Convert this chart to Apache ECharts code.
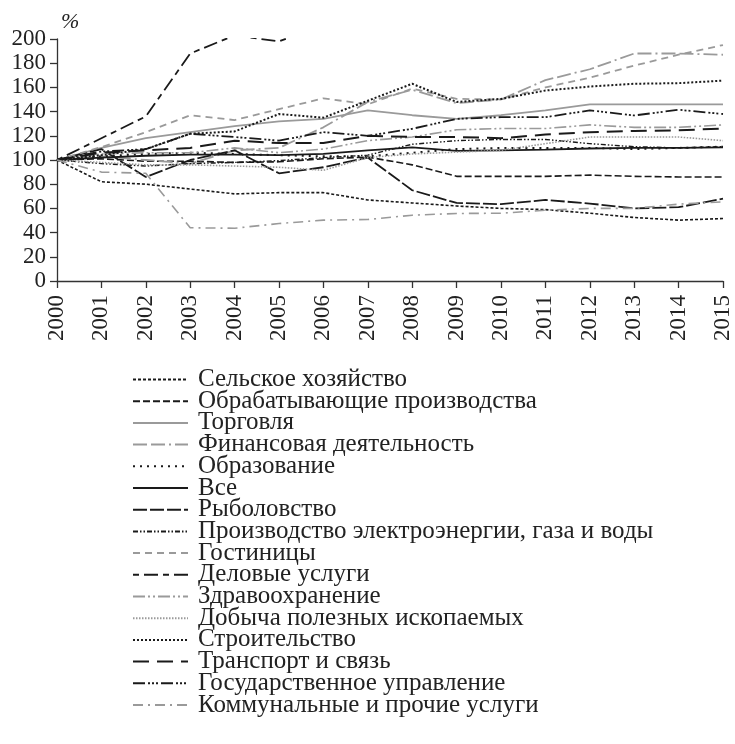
<!DOCTYPE html>
<html>
<head>
<meta charset="utf-8">
<script src="https://cdn.jsdelivr.net/npm/echarts@6/dist/echarts.min.js"></script>
<style>
  html, body { margin: 0; padding: 0; background: #fff; }
  #chart { width: 735px; height: 744px; }
</style>
</head>
<body>
<div id="chart"></div>
<script>
// годы
const years = ['2000', '2001', '2002', '2003', '2004', '2005', '2006', '2007',
  '2008', '2009', '2010', '2011', '2012', '2013', '2014', '2015']

// значения, 2000 = 100
const agriculture = [100, 82, 80, 76, 72, 73, 73, 67, 64.5, 62, 60, 59, 56, 52.5, 50.3, 51.6]
const manufacturing = [100, 101, 99, 99, 98, 98.5, 101, 102.4, 96, 86.5, 86.5, 86.5, 87.5, 86.5, 86, 86]
const trade = [100, 110, 118, 123, 128, 132, 134, 141, 137, 134, 137, 141, 146, 146, 146, 146]
const finance = [100, 103, 100, 97, 108, 110, 127, 148, 158, 147, 150, 166, 175, 188, 188, 187]
const education = [100, 103, 105, 106, 105, 104, 103, 103, 106, 109, 110, 110, 110, 109, 110, 111]
const all = [100, 102, 103.5, 104.5, 104.5, 104, 105, 108, 110.5, 107.5, 108, 108.5, 109.5, 110, 110, 110.5]
const fishing = [100, 109, 86, 100, 108, 89, 94, 102, 75, 64.5, 63.5, 67, 64, 60, 61, 68]
const utilities = [100, 97, 95, 97, 98, 99.5, 102, 104, 113, 116, 117, 117, 113.5, 111, 110, 111]
const hotels = [100, 110.7, 123, 137, 133, 142, 151, 146, 159, 150.5, 150, 160, 168, 178, 187, 195]
const business = [100, 118, 136, 188, 203, 198, 212, 230, 250, 255, 260, 270, 280, 285, 290, 295]
const health = [100, 105, 106, 106, 110, 106, 109, 116, 119, 125, 126, 126, 129, 127, 127, 129]
const mining = [100, 98, 96, 96, 95, 94, 91.5, 102, 105, 106.5, 108, 113.5, 119, 119, 119, 116]
const construction = [100, 104, 109, 121.7, 123.6, 138, 135, 149, 163, 148, 150.5, 157.4, 160.7, 163, 163.5, 165.6]
const transport = [100, 106, 108, 110, 116, 114, 114, 120, 119, 119, 118, 121, 123, 124, 124.5, 126]
const government = [100, 107, 109, 121.7, 119, 116, 123, 120, 125.8, 134, 135.4, 135.4, 141, 136.8, 141.5, 138]
const communal = [100, 90, 89, 44, 43.6, 47.5, 50.3, 50.8, 54.4, 55.8, 56, 58.5, 60, 60, 63.5, 65.4]

const yTicks = [0, 20, 40, 60, 80, 100, 120, 140, 160, 180, 200]

const BLACK = '#1a1a1a'
const GRAY = '#9a9a9a'
const FONT = '"Liberation Serif", "DejaVu Serif", serif'

// имя, данные, цвет, штрих, толщина
const seriesDefs = [
  ['Сельское хозяйство', agriculture, BLACK, [3, 2], 1.6],
  ['Обрабатывающие производства', manufacturing, BLACK, [7, 3], 1.6],
  ['Торговля', trade, GRAY, 'solid', 1.8],
  ['Финансовая деятельность', finance, GRAY, [14, 4, 14, 4, 2, 4], 1.8],
  ['Образование', education, BLACK, [2, 5], 2],
  ['Все', all, BLACK, 'solid', 1.8],
  ['Рыболовство', fishing, BLACK, [14, 3], 1.8],
  ['Производство электроэнергии, газа и воды', utilities, BLACK, [5, 2, 1.5, 2, 1.5, 2], 1.4],
  ['Гостиницы', hotels, GRAY, [7, 5], 1.8],
  ['Деловые услуги', business, BLACK, [6, 5, 14, 5], 1.8],
  ['Здравоохранение', health, GRAY, [12, 3, 2, 3, 2, 3], 1.6],
  ['Добыча полезных ископаемых', mining, GRAY, [1.5, 1.5], 1.6],
  ['Строительство', construction, BLACK, [2, 2], 2],
  ['Транспорт и связь', transport, BLACK, [16, 8], 2],
  ['Государственное управление', government, BLACK, [12, 3, 2, 2, 2, 2, 2, 3], 1.8],
  ['Коммунальные и прочие услуги', communal, GRAY, [10, 5, 2, 5], 1.6],
]

const chart = echarts.init(document.getElementById('chart'))

const option = {
  animation: false,
  textStyle: { fontFamily: FONT },
  grid: { left: 57, right: 12, top: 39, bottom: 463, containLabel: false },
  legend: {
    orient: 'vertical',
    left: 132,
    top: 367,
    height: 370,
    padding: 0,
    itemWidth: 55,
    itemHeight: 12,
    itemGap: -3.3,
    itemStyle: { opacity: 0, borderWidth: 0 },
    data: seriesDefs.map(d => d[0]),
    textStyle: { fontFamily: FONT, fontSize: 25, color: '#222', padding: [0, 0, 0, 5] },
  },
  xAxis: {
    type: 'category',
    data: years,
    boundaryGap: false,
    axisLine: { lineStyle: { color: '#333', width: 1.3 } },
    axisTick: { inside: false, length: 7, lineStyle: { color: '#333', width: 1.3 } },
    axisLabel: { rotate: 90, fontSize: 23, color: '#222', margin: 14, fontFamily: FONT },
    splitLine: { show: false },
  },
  yAxis: {
    type: 'value',
    min: 0,
    max: 200,
    interval: 20,
    name: '%',
    nameLocation: 'end',
    nameGap: 6,
    nameTextStyle: { fontFamily: FONT, fontSize: 22, fontStyle: 'italic', color: '#222', align: 'left', padding: [0, 0, 0, 4] },
    axisLine: { show: true, lineStyle: { color: '#333', width: 1.3 } },
    axisTick: { show: true, length: 7, lineStyle: { color: '#333', width: 1.3 } },
    axisLabel: {
      fontSize: 23, color: '#222', margin: 11, fontFamily: FONT,
      formatter: v => (yTicks.indexOf(v) >= 0 ? String(v) : ''),
    },
    splitLine: { show: false },
  },
  series: seriesDefs.map(([name, data, color, type, width]) => ({
    name,
    type: 'line',
    data,
    symbol: 'none',
    clip: true,
    lineStyle: { color, type, width },
    itemStyle: { color },
  })),
}

chart.setOption(option)
</script>
</body>
</html>
